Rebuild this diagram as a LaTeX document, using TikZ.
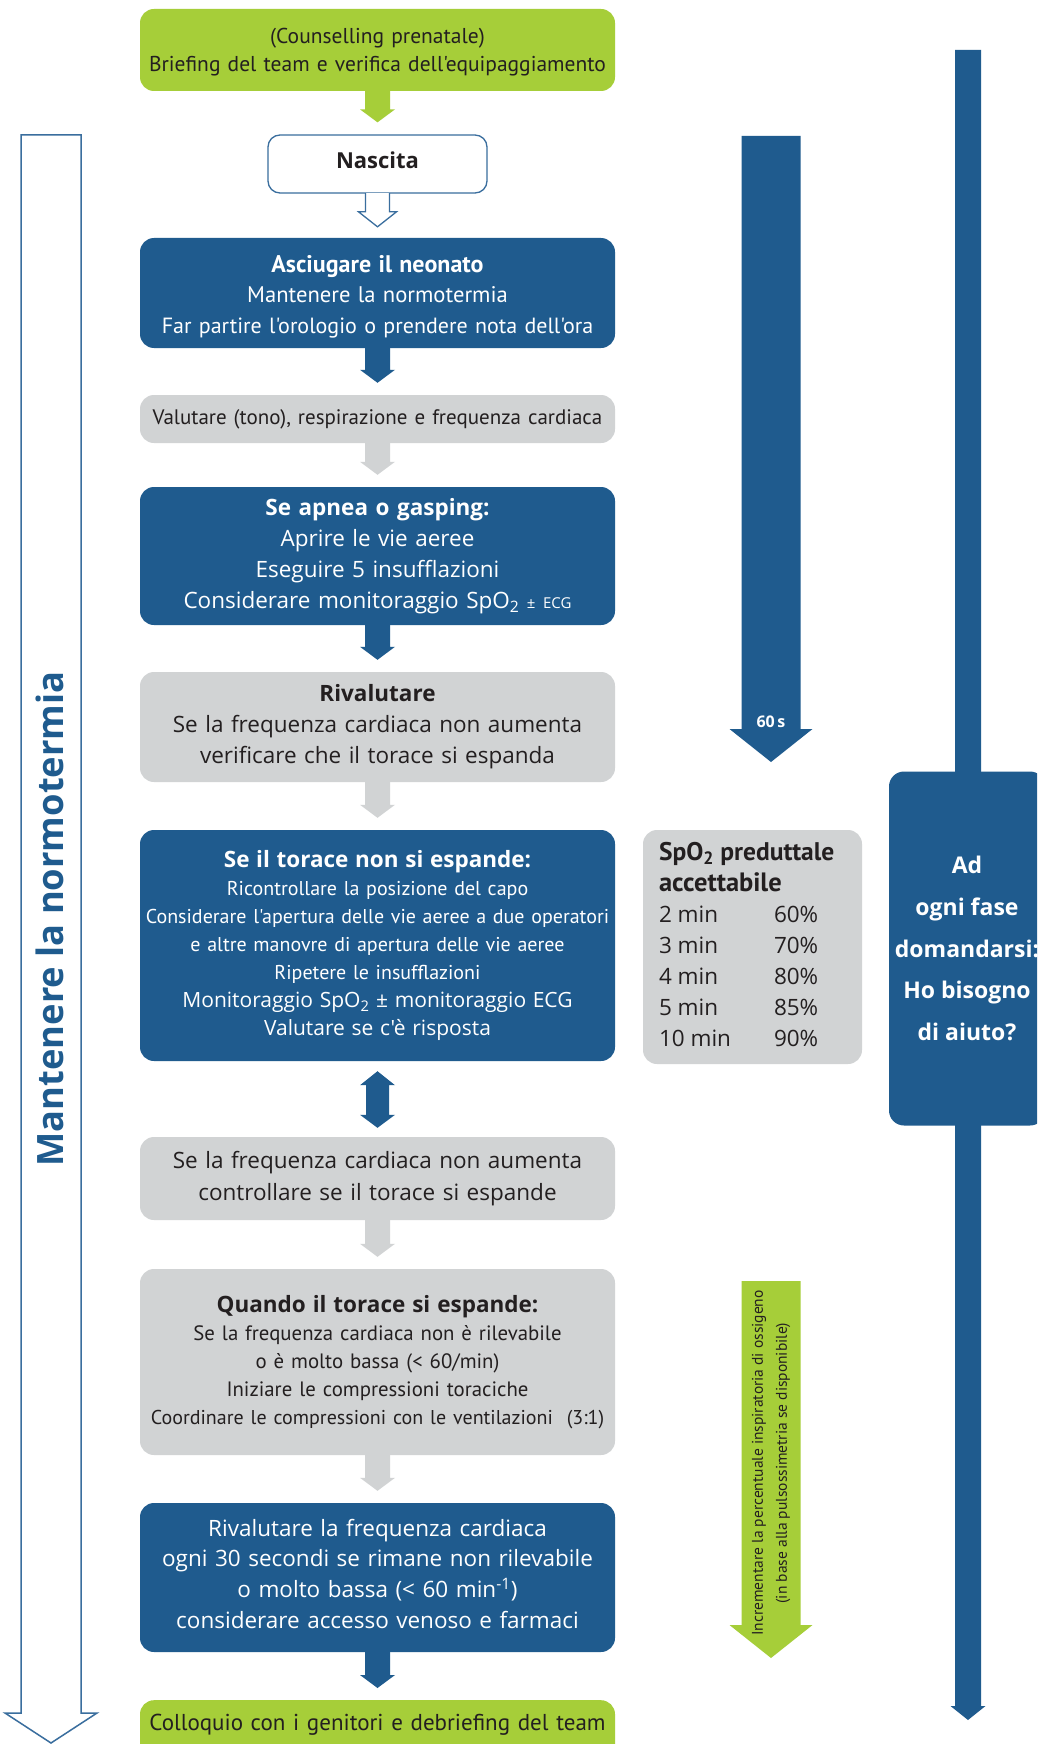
\documentclass[tikz,border=0pt]{standalone}
\usepackage{fontspec}
\newfontfamily\os[Ligatures=TeXOff]{Open Sans}
\newfontfamily\my[Ligatures=TeXOff]{PT Sans}
\usetikzlibrary{calc}
\definecolor{rblue}{HTML}{1F5B8E}
\definecolor{rline}{HTML}{3A6E9E}
\definecolor{rgray}{HTML}{D1D3D4}
\definecolor{rgreen}{HTML}{A6CE39}
\definecolor{rtext}{HTML}{231F20}
\newcommand\fsz[2]{\fontsize{#1}{#2}\selectfont}
\tikzset{
  bx/.style={rectangle, rounded corners=14pt, minimum width=475pt, inner sep=0pt, align=center, text width=470pt},
  bluebox/.style={bx, fill=rblue, text=white},
  graybox/.style={bx, fill=rgray, text=rtext},
  greenbox/.style={bx, fill=rgreen, text=rtext},
}
% fat arrow from node #2 to node #3 in colour #1
\newcommand\fatarrow[3]{%
  \fill[#1] ($(#2.south)+(-12.5,-1)$) -- ($(#3.north)+(-12.5,-25)$) -- ($(#3.north)+(-17.5,-25)$)
    -- ($(#3.north)+(0,-12)$) -- ($(#3.north)+(17.5,-25)$) -- ($(#3.north)+(12.5,-25)$)
    -- ($(#2.south)+(12.5,-1)$) -- cycle;}
\begin{document}
\begin{tikzpicture}[x=1pt,y=-1pt]
\useasboundingbox (0,0) rectangle (1037,1744);
\clip (0,0) rectangle (1037,1744);
\fill[white] (0,0) rectangle (1037,1744);

% left hollow arrow
\draw[rline, line width=1.5pt, fill=white] (21,135) -- (81,135) -- (81,1713) -- (97,1713) -- (51,1743) -- (5,1713) -- (21,1713) -- cycle;
\node[rotate=90, font={\os\bfseries\fsz{36.3}{40}}, text=rblue] (mant) at (50,919) {Mantenere la normotermia};

% 60 s arrow
\fill[rblue] (741.5,136) -- (800.5,136) -- (800.5,729) -- (812.5,729) -- (771,762) -- (729.5,729) -- (741.5,729) -- cycle;
\node[font={\os\bfseries\fsz{16}{16}}, text=white] (sixty) at (771,722) {60\,s};

% oxygen arrow
\fill[rgreen] (741.5,1281) -- (800.5,1281) -- (800.5,1625) -- (812.5,1625) -- (771,1658) -- (729.5,1625) -- (741.5,1625) -- cycle;
\node[rotate=90, font={\my\fsz{15.5}{24}}, text=rtext, align=center] (oxy) at (771,1463)
  {Incrementare la percentuale inspiratoria di ossigeno\\(in base alla pulsossimetria se disponibile)};

% tall bar on the right
\fill[rblue] (955,50) -- (981,50) -- (981,1706) -- (985.5,1706) -- (968,1720) -- (950.5,1706) -- (955,1706) -- cycle;
\node[rectangle, rounded corners=15pt, fill=rblue, text=white, minimum width=156pt, minimum height=354pt,
  align=center, font={\os\bfseries\fsz{23}{41.7}}] (help) at (967,948.5)
  {Ad\\ogni fase\\domandarsi:\\Ho bisogno\\di aiuto?};

% SpO2 table
\node[rectangle, rounded corners=14pt, fill=rgray, text=rtext, minimum width=219pt, minimum height=234pt, inner sep=0pt]
  (spo) at (752.5,947) {\os\fsz{22.5}{31}\begin{tabular}{@{}p{115pt}@{}p{72pt}@{}}
  \multicolumn{2}{@{}l@{}}{\my\bfseries\fsz{25.5}{31}SpO\textsubscript{2} preduttale}\\
  \multicolumn{2}{@{}l@{}}{\my\bfseries\fsz{26.5}{31}accettabile}\\
  2 min & 60\%\\
  3 min & 70\%\\
  4 min & 80\%\\
  5 min & 85\%\\
  10 min & 90\%
  \end{tabular}};

% main column
\node[greenbox, minimum height=82pt, font={\my\fsz{21.5}{28}}] (g1) at (377.5,50)
  {\rule{0pt}{20.5pt}(Counselling prenatale)\\Briefing del team e verifica dell'equipaggiamento};
\node[rectangle, rounded corners=12pt, draw=rline, line width=1.3pt, fill=white, minimum width=219pt, minimum height=58pt,
  text depth=8pt, font={\os\bfseries\fsz{22}{26}}, text=rtext] (nas) at (377.5,164) {Nascita};
\node[bluebox, minimum height=110pt, font={\my\fsz{22}{30.5}}] (b1) at (377.5,293)
  {\rule{0pt}{24.5pt}{\bfseries\fsz{24}{30.5}Asciugare il neonato}\\{\fsz{22.6}{30.5}Mantenere la normotermia}\\Far partire l'orologio o prendere nota dell'ora};
\node[graybox, minimum height=48pt, font={\my\fsz{21}{26}}] (g2) at (377.5,419)
  {Valutare (tono), respirazione e frequenza cardiaca};
\node[bluebox, minimum height=138pt, font={\os\fsz{22.5}{31}}] (b3) at (377.5,556)
  {{\bfseries Se apnea o gasping:}\\Aprire le vie aeree\\Eseguire 5 insufflazioni\\Considerare monitoraggio SpO\textsubscript{2} {\fsz{15}{31}± ECG}};
\node[graybox, minimum height=110pt, font={\os\fsz{22.5}{31}}] (g4) at (377.5,727)
  {{\bfseries Rivalutare}\\Se la frequenza cardiaca non aumenta\\verificare che il torace si espanda};
\node[bluebox, minimum height=231pt, font={\my\fsz{20}{28}}] (b5) at (377.5,945.5)
  {{\os\bfseries\fsz{22.5}{28}Se il torace non si espande:}\\Ricontrollare la posizione del capo\\Considerare l'apertura delle vie aeree a due operatori\\e altre manovre di apertura delle vie aeree\\Ripetere le insufflazioni\\{\os\fsz{21}{28}Monitoraggio SpO\textsubscript{2} ± monitoraggio ECG}\\{\os\fsz{21}{28}Valutare se c'è risposta}};
\node[graybox, minimum height=83pt, font={\os\fsz{22.5}{32}}] (g6) at (377.5,1178.5)
  {Se la frequenza cardiaca non aumenta\\controllare se il torace si espande};
\node[graybox, minimum height=186pt, font={\my\fsz{20.8}{28}}] (g7) at (377.5,1362)
  {{\os\bfseries\fsz{22.5}{28}Quando il torace si espande:}\\Se la frequenza cardiaca non è rilevabile\\o è molto bassa (< 60/min)\\Iniziare le compressioni toraciche\\{\fsz{20}{28}Coordinare le compressioni con le ventilazioni\ \ (3:1)}};
\node[bluebox, minimum height=149pt, font={\os\fsz{22.5}{30.7}}] (b8) at (377.5,1577.5)
  {Rivalutare la frequenza cardiaca\\ogni 30 secondi se rimane non rilevabile\\o molto bassa (< 60 min\textsuperscript{-1})\\considerare accesso venoso e farmaci\rule[-8pt]{0pt}{0pt}};
\node[greenbox, anchor=north, inner ysep=10pt, text height=20pt, text depth=40pt, font={\my\fsz{23}{28}}] (g9) at (377.5,1700)
  {Colloquio con i genitori e debriefing del team};

% connectors
\fatarrow{rgreen}{g1}{nas}
\draw[rline, line width=1.3pt, fill=white] ($(nas.south)+(-12,-0.6)$) -- ($(b1.north)+(-12,-26)$) -- ($(b1.north)+(-19,-26)$)
  -- ($(b1.north)+(0,-11)$) -- ($(b1.north)+(19,-26)$) -- ($(b1.north)+(12,-26)$) -- ($(nas.south)+(12,-0.6)$);
\fatarrow{rblue}{b1}{g2}
\fatarrow{rgray}{g2}{b3}
\fatarrow{rblue}{b3}{g4}
\fatarrow{rgray}{g4}{b5}
\fill[rblue] ($(b5.south)+(0,10)$) -- ($(b5.south)+(17.5,24)$) -- ($(b5.south)+(11.5,24)$)
  -- ($(g6.north)+(11.5,-22)$) -- ($(g6.north)+(17.5,-22)$) -- ($(g6.north)+(0,-9)$)
  -- ($(g6.north)+(-17.5,-22)$) -- ($(g6.north)+(-11.5,-22)$) -- ($(b5.south)+(-11.5,24)$)
  -- ($(b5.south)+(-17.5,24)$) -- cycle;
\fatarrow{rgray}{g6}{g7}
\fatarrow{rgray}{g7}{b8}
\fatarrow{rblue}{b8}{g9}
\end{tikzpicture}
\end{document}
